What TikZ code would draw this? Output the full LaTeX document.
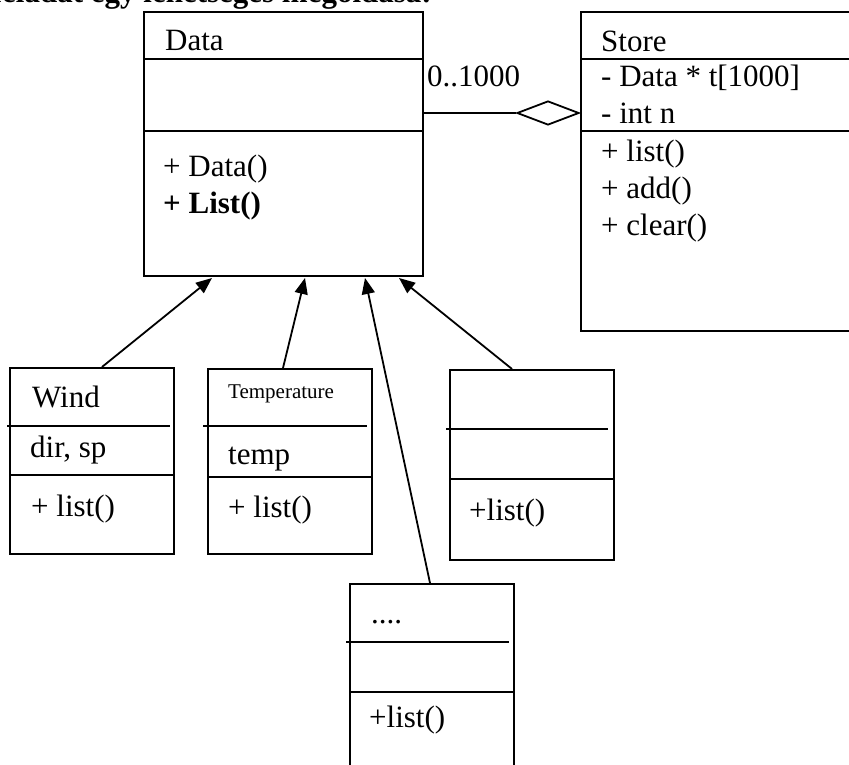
\documentclass[tikz,border=0pt]{standalone}
\usepackage{fontspec}
\setmainfont{Liberation Serif}
\usetikzlibrary{arrows.meta,shapes.geometric,calc}
\tikzset{
  umlbox/.style={draw, line width=2pt, rectangle, inner sep=0pt, anchor=north west},
  sep/.style={line width=2pt},
  txt/.style={anchor=base west, inner sep=0pt, font=\fontsize{31}{37}\selectfont},
  smalltxt/.style={anchor=base west, inner sep=0pt, font=\fontsize{21}{25}\selectfont},
  inh/.style={line width=1.8pt, -{Triangle[length=16pt,width=13pt]}},
}
\begin{document}
\begin{tikzpicture}[x=1pt,y=-1pt]
\useasboundingbox (0,0) rectangle (849,765);
\clip (0,0) rectangle (849,765);
\fill[white] (0,0) rectangle (849,765);

% title (cropped at the top)
\node[anchor=base east, inner sep=0pt, font=\fontsize{31}{37}\selectfont\bfseries] (title) at (432,3) {feladat egy lehetséges megoldása:};

% Data
\node[umlbox, minimum width=279pt, minimum height=264pt] (data) at (143,11) {};
\draw[sep] (143,59) -- (422,59);
\draw[sep] (143,131) -- (422,131);
\node[txt] (dname) at (165,51) {Data};
\node[txt] (dm1) at (163,176) {+ Data()};
\node[txt] (dm2) at (163,213) {\textbf{+ List()}};

% Store
\node[umlbox, minimum width=340pt, minimum height=319pt] (store) at (580,11) {};
\draw[sep] (580,59) -- (900,59);
\draw[sep] (580,131) -- (900,131);
\node[txt] (sname) at (601,52) {Store};
\node[txt] (sa1) at (601,87) {- Data * t[1000]};
\node[txt] (sa2) at (601,124) {- int n};
\node[txt] (sm1) at (601,161) {+ list()};
\node[txt] (sm2) at (601,198) {+ add()};
\node[txt] (sm3) at (601,235) {+ clear()};

% aggregation
\node[draw, diamond, line width=1.8pt, fill=white, minimum width=62pt, minimum height=24pt, inner sep=0pt] (agg) at (548,113) {};
\draw[line width=1.8pt] (data.east |- agg.west) -- (agg.west);
\node[txt] (mult) at (427,87) {0..1000};

% Wind
\node[umlbox, minimum width=164pt, minimum height=186pt] (wind) at (9,367) {};
\draw[sep] (7,426) -- (170,426);
\draw[sep] (9,475) -- (173,475);
\node[txt] (wname) at (32,407) {Wind};
\node[txt] (wa) at (30,457) {dir, sp};
\node[txt] (wm) at (31,516) {+ list()};

% Temperature
\node[umlbox, minimum width=164pt, minimum height=185pt] (temp) at (207,368) {};
\draw[sep] (203,426) -- (367,426);
\draw[sep] (207,477) -- (371,477);
\node[smalltxt] (tname) at (228,398) {Temperature};
\node[txt] (ta) at (228,464) {temp};
\node[txt] (tm) at (228,517) {+ list()};

% unnamed right class
\node[umlbox, minimum width=164pt, minimum height=190pt] (other) at (449,369) {};
\draw[sep] (446,429) -- (608,429);
\draw[sep] (449,479) -- (613,479);
\node[txt] (om) at (469,520) {+list()};

% "...." class
\node[umlbox, minimum width=164pt, minimum height=230pt] (dots) at (349,583) {};
\draw[sep] (346,642) -- (509,642);
\draw[sep] (349,692) -- (513,692);
\node[txt] (dname2) at (371,623) {....};
\node[txt] (dm) at (369,727) {+list()};

% inheritance arrows
\draw[inh] ($(wind.north west)+(93,0)$) -- ($(data.south west)+(69,1)$);
\draw[inh] ($(temp.north west)+(76,0)$) -- ($(data.south west)+(162,1)$);
\draw[inh] ($(dots.north west)+(81,0)$) -- ($(data.south west)+(222,1)$);
\draw[inh] ($(other.north west)+(63,0)$) -- ($(data.south west)+(256,1)$);
\end{tikzpicture}
\end{document}
